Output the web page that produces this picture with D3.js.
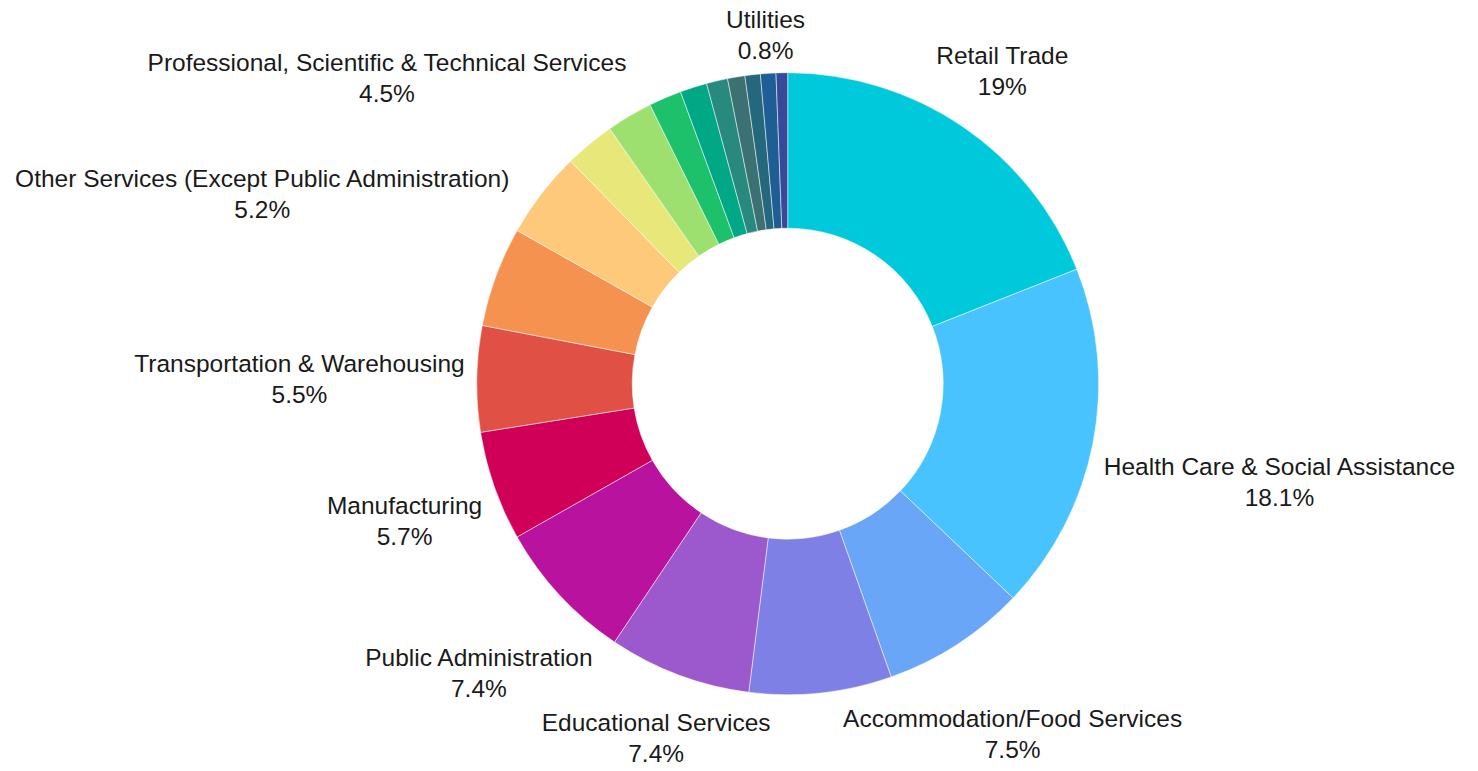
<!DOCTYPE html>
<html>
<head>
<meta charset="utf-8">
<script src="https://cdn.jsdelivr.net/npm/d3@7"></script>
<style>
  html, body { margin: 0; padding: 0; background: #fff; }
  svg { display: block; }
  text { font-family: Arial, "Liberation Sans", Helvetica, sans-serif; }
</style>
</head>
<body>
<div id="chart"></div>
<script>
// ---- data ----
const categories = [
  "Retail Trade",
  "Health Care & Social Assistance",
  "Accommodation/Food Services",
  "Construction",
  "Educational Services",
  "Public Administration",
  "Manufacturing",
  "Transportation & Warehousing",
  "Other Services (Except Public Administration)",
  "Professional, Scientific & Technical Services",
  "Finance & Insurance",
  "Administrative & Support Services",
  "Wholesale Trade",
  "Arts, Entertainment & Recreation",
  "Real Estate & Rental & Leasing",
  "Information",
  "Agriculture, Forestry, Fishing & Hunting",
  "Utilities",
  "Mining, Quarrying, Oil & Gas Extraction"
];
const shares = [19.0, 18.1, 7.5, 7.4, 7.4, 7.4, 5.7, 5.5, 5.2, 4.5, 2.6, 2.4, 1.7, 1.4, 1.1, 0.9, 0.8, 0.8, 0.6];
const colors = [
  "#00c9dc", "#48c3fd", "#6aa6f8", "#7f80e6", "#9b59cd", "#b8129e", "#d00058",
  "#e05045", "#f5924f", "#fec97a", "#e7e77a", "#9de070", "#1dc16c", "#00a886",
  "#28897f", "#3b7173", "#25687d", "#1e5e95", "#364a9b"
];
const shownLabels = [
  "Retail Trade", "Health Care & Social Assistance", "Accommodation/Food Services",
  "Educational Services", "Public Administration", "Manufacturing",
  "Transportation & Warehousing", "Other Services (Except Public Administration)",
  "Professional, Scientific & Technical Services", "Utilities"
];

// ---- layout ----
const W = 1478, H = 771;
const cx = 787.7, cy = 383.7;
const R = 311, Rin = 155.5;
const labelGap = 323;      // nearest point of a label box sits on this radius
const fontSize = 24.5, lineStep = 31;

const data = categories.map((c, i) => ({ name: c, value: shares[i], color: colors[i] }));
const total = d3.sum(shares);

const svg = d3.select("#chart").append("svg").attr("width", W).attr("height", H);
const g = svg.append("g").attr("transform", `translate(${cx},${cy})`);

const pie = d3.pie().value(d => d.value).sort(null).startAngle(0).endAngle(2 * Math.PI);
const arc = d3.arc().innerRadius(Rin).outerRadius(R);
const arcs = pie(data);

g.selectAll("path.slice").data(arcs).join("path")
  .attr("class", "slice")
  .attr("d", arc)
  .attr("fill", d => d.data.color)
  .attr("stroke", "#ffffff")
  .attr("stroke-width", 0.5);

const fmtPct = v => {
  const s = d3.format(".1f")(v);
  return s.endsWith(".0") ? s.slice(0, -2) : s;
};

// distance from origin to axis-aligned box centred at (x,y)
function boxDist(x, y, hw, hh) {
  const dx = Math.max(0, Math.abs(x) - hw);
  const dy = Math.max(0, Math.abs(y) - hh);
  return Math.hypot(dx, dy);
}

const capH = fontSize * 0.716;
const labels = g.append("g").attr("class", "labels");
arcs.filter(a => shownLabels.includes(a.data.name)).forEach(a => {
  const mid = (a.startAngle + a.endAngle) / 2;
  const ux = Math.sin(mid), uy = -Math.cos(mid);
  const t = labels.append("text")
    .attr("text-anchor", "middle")
    .attr("font-size", fontSize)
    .attr("fill", "#1a1a1a");
  const l1 = t.append("tspan").text(a.data.name);
  const l2 = t.append("tspan").text(fmtPct(a.data.value / total * 100) + "%");
  const w = Math.max(l1.node().getComputedTextLength(), l2.node().getComputedTextLength());
  const hw = w / 2, hh = (lineStep + fontSize * 1.1) / 2;
  let lo = 0, hi = 1200;
  for (let k = 0; k < 60; k++) {
    const m = (lo + hi) / 2;
    if (boxDist(ux * m, uy * m, hw, hh) < labelGap) lo = m; else hi = m;
  }
  const px = ux * hi, py = uy * hi;
  const b1 = py - lineStep / 2 + capH / 2 + 3;
  l1.attr("x", px).attr("y", b1);
  l2.attr("x", px).attr("y", b1 + lineStep);
});
</script>
</body>
</html>
